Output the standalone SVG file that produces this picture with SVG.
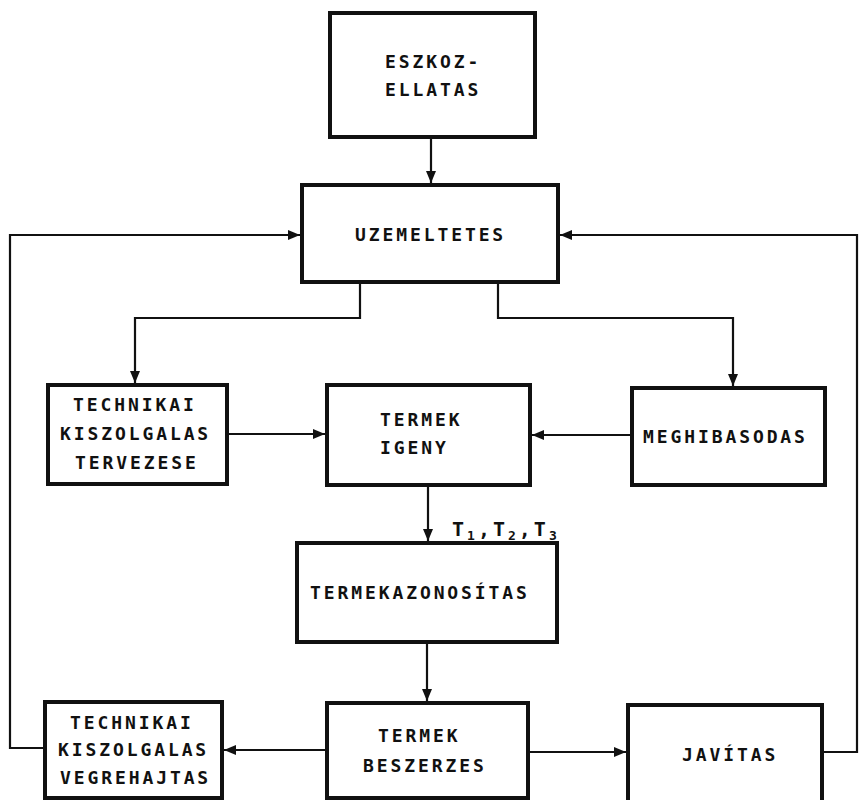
<svg xmlns="http://www.w3.org/2000/svg" width="859" height="800" viewBox="0 0 859 800">
<style>
.box{fill:#fff;stroke:#111;stroke-width:4}
.c{fill:none;stroke:#111;stroke-width:2.2}
text{font-family:"DejaVu Sans Mono","Liberation Mono",monospace;font-weight:bold;font-size:18px;letter-spacing:2.9px;fill:#111}
.big{font-size:20px;letter-spacing:3px}
.sub{font-size:13px;letter-spacing:3px}
</style>
<defs>
<marker id="ah" viewBox="0 0 12 10" refX="12" refY="5" markerWidth="12" markerHeight="10" markerUnits="userSpaceOnUse" orient="auto">
<path d="M0,0 L12,5 L0,10 z" fill="#111"/>
</marker>
</defs>
<rect width="859" height="800" fill="#fff"/>
<g id="connectors">
<path class="c" d="M431,137 V183" marker-end="url(#ah)"/>
<path class="c" d="M360,282 V318 H135 V383" marker-end="url(#ah)"/>
<path class="c" d="M498,282 V318 H733 V386" marker-end="url(#ah)"/>
<path class="c" d="M227,434 H325" marker-end="url(#ah)"/>
<path class="c" d="M632,435 H532" marker-end="url(#ah)"/>
<path class="c" d="M428,485 V541" marker-end="url(#ah)"/>
<path class="c" d="M427,642 V701" marker-end="url(#ah)"/>
<path class="c" d="M327,750 H224" marker-end="url(#ah)"/>
<path class="c" d="M528,752 H626" marker-end="url(#ah)"/>
<path class="c" d="M45,748 H10 V235 H300" marker-end="url(#ah)"/>
<path class="c" d="M822,752 H857 V235 H560" marker-end="url(#ah)"/>
</g>
<g id="eszkozellatas">
<rect class="box" x="330" y="13" width="205" height="124"/>
<text x="385" y="68">ESZKOZ-</text>
<text x="385" y="96">ELLATAS</text>
</g>
<g id="uzemeltetes">
<rect class="box" x="302" y="185" width="256" height="97"/>
<text x="355" y="241">UZEMELTETES</text>
</g>
<g id="tervezese">
<rect class="box" x="48" y="385" width="179" height="99"/>
<text x="73" y="411">TECHNIKAI</text>
<text x="60" y="440">KISZOLGALAS</text>
<text x="75" y="469">TERVEZESE</text>
</g>
<g id="termekigeny">
<rect class="box" x="327" y="385" width="203" height="100"/>
<text x="380" y="426">TERMEK</text>
<text x="380" y="454">IGENY</text>
</g>
<g id="meghibasodas">
<rect class="box" x="632" y="388" width="193" height="97"/>
<text x="643" y="443">MEGHIBASODAS</text>
</g>
<g id="t-label">
<text class="big" x="452" y="536">T<tspan class="sub" dy="4">1</tspan><tspan dy="-4">,T</tspan><tspan class="sub" dy="4">2</tspan><tspan dy="-4">,T</tspan><tspan class="sub" dy="4">3</tspan></text>
</g>
<g id="termekazonositas">
<rect class="box" x="297" y="543" width="260" height="99"/>
<text x="310" y="599">TERMEKAZONOSÍTAS</text>
</g>
<g id="vegrehajtas">
<rect class="box" x="45" y="702" width="177" height="96"/>
<text x="70" y="729">TECHNIKAI</text>
<text x="58" y="756">KISZOLGALAS</text>
<text x="60" y="784">VEGREHAJTAS</text>
</g>
<g id="beszerzes">
<rect class="box" x="327" y="703" width="201" height="95"/>
<text x="378" y="742">TERMEK</text>
<text x="363" y="772">BESZERZES</text>
</g>
<g id="javitas">
<rect class="box" x="628" y="705" width="194" height="97"/>
<text x="682" y="761">JAVÍTAS</text>
</g>
</svg>
